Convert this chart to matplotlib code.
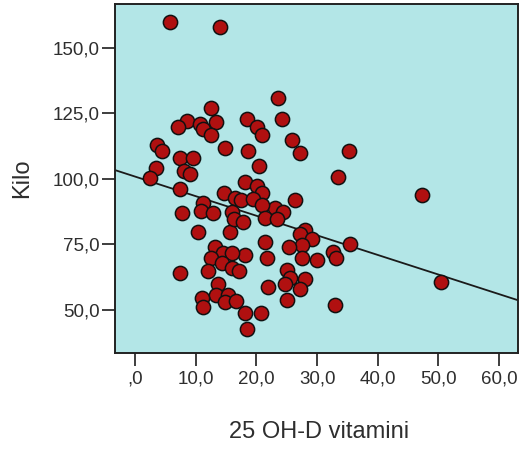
import numpy as np
import matplotlib
matplotlib.use("Agg")
from matplotlib import pyplot as plt
from matplotlib.ticker import FuncFormatter

# 25 OH-D vitamini (x) and Kilo (y)
vitamin_d = [
    5.77, 14.00, 12.52, 13.34, 8.52, 7.13, 10.71, 11.20, 12.52, 14.83,
    3.57, 4.40, 7.41, 9.60, 8.12, 9.06, 3.41, 2.47, 7.41, 11.15,
    14.66, 23.61, 18.40, 24.27, 20.05, 20.87, 25.86, 27.10, 35.25, 18.66,
    20.46, 33.49, 18.12, 20.05, 20.92, 16.47, 17.38, 19.36, 26.36, 23.06,
    24.43, 20.87, 7.69, 10.87, 12.77, 10.33, 15.65, 15.90, 16.31, 17.79,
    21.42, 23.39, 28.01, 27.18, 29.11, 27.46, 25.29, 35.42, 21.42, 21.70,
    18.12, 27.46, 30.06, 32.67, 33.11, 13.18, 14.55, 15.93, 12.52, 14.28,
    7.41, 11.98, 15.93, 17.13, 13.72, 13.26, 15.24, 14.83, 16.56, 10.99,
    11.25, 24.96, 25.53, 28.01, 24.71, 27.18, 21.96, 24.96, 32.95, 18.12,
    20.76, 18.40, 47.23, 50.36,
]
kilo = [
    159.7, 158.0, 126.9, 121.8, 121.9, 119.8, 120.9, 119.2, 116.7, 111.8,
    113.1, 110.7, 107.9, 107.9, 103.0, 101.9, 104.0, 100.2, 96.0, 90.8,
    94.8, 130.7, 122.8, 122.8, 119.9, 116.7, 114.8, 109.9, 110.7, 110.8,
    104.9, 100.8, 98.8, 97.1, 94.7, 92.6, 91.8, 92.3, 92.0, 88.9,
    87.4, 90.1, 86.9, 87.9, 86.9, 79.9, 79.9, 87.4, 84.7, 83.7,
    85.0, 84.7, 80.5, 79.0, 76.9, 74.8, 73.9, 75.2, 76.0, 69.7,
    71.0, 69.7, 68.9, 72.3, 69.7, 74.2, 71.9, 71.9, 69.7, 67.8,
    64.0, 64.9, 65.9, 64.9, 60.1, 55.8, 55.9, 53.2, 53.5, 54.4,
    51.0, 65.3, 62.2, 62.0, 59.9, 57.9, 58.8, 53.8, 51.9, 48.8,
    48.8, 42.8, 93.9, 60.8,
]

x_ticks = [0, 10, 20, 30, 40, 50, 60]
y_ticks = [50, 75, 100, 125, 150]

TEXT = "#2e2e2e"


def spss_fmt(v, pos=None):
    # SPSS style: comma decimal, no leading zero
    s = f"{v:.1f}".replace(".", ",")
    if s.startswith("0,"):
        s = s[1:]
    return s


plt.rcParams['font.family'] = ['Liberation Sans', 'DejaVu Sans']

fig = plt.figure(figsize=(5.19, 4.5), dpi=100)
ax = fig.add_axes([115 / 519, 97 / 450, 403 / 519, 349 / 450])
ax.set_facecolor("#b3e6e7")

xlim = (-3.3, 63.1)
ax.set_xlim(*xlim)
ax.set_ylim(33.6, 166.7)

x = np.array(vitamin_d)
y = np.array(kilo)
slope, intercept = np.polyfit(x, y, 1)
xs = np.array(xlim)
ax.plot(xs, intercept + slope * xs, color="#1a1a1a", linewidth=1.3, zorder=2)

ax.scatter(x, y, s=105, facecolor="#b01010", edgecolor="#111111",
           linewidth=1.1, zorder=3)

ax.set_xticks(x_ticks)
ax.set_yticks(y_ticks)
ax.xaxis.set_major_formatter(FuncFormatter(spss_fmt))
ax.yaxis.set_major_formatter(FuncFormatter(spss_fmt))
ax.tick_params(axis="both", direction="out", length=9.5, width=1.3,
               labelsize=13.5, colors=TEXT)
ax.tick_params(axis="x", pad=3)
ax.tick_params(axis="y", pad=1.7)
ax.tick_params(top=False, right=False)
for sp in ax.spines.values():
    sp.set_linewidth(1.4)
    sp.set_color("#222222")

ax.set_xlabel("25 OH-D vitamini", fontsize=17, color=TEXT, va="baseline")
ax.xaxis.set_label_coords(0.5067, -(438 - 353) / 349)
ax.set_ylabel("Kilo", fontsize=17, color=TEXT, va="center")
ax.yaxis.set_label_coords((22 - 115) / 403, 0.5)

fig.savefig("out.png", dpi=100)
